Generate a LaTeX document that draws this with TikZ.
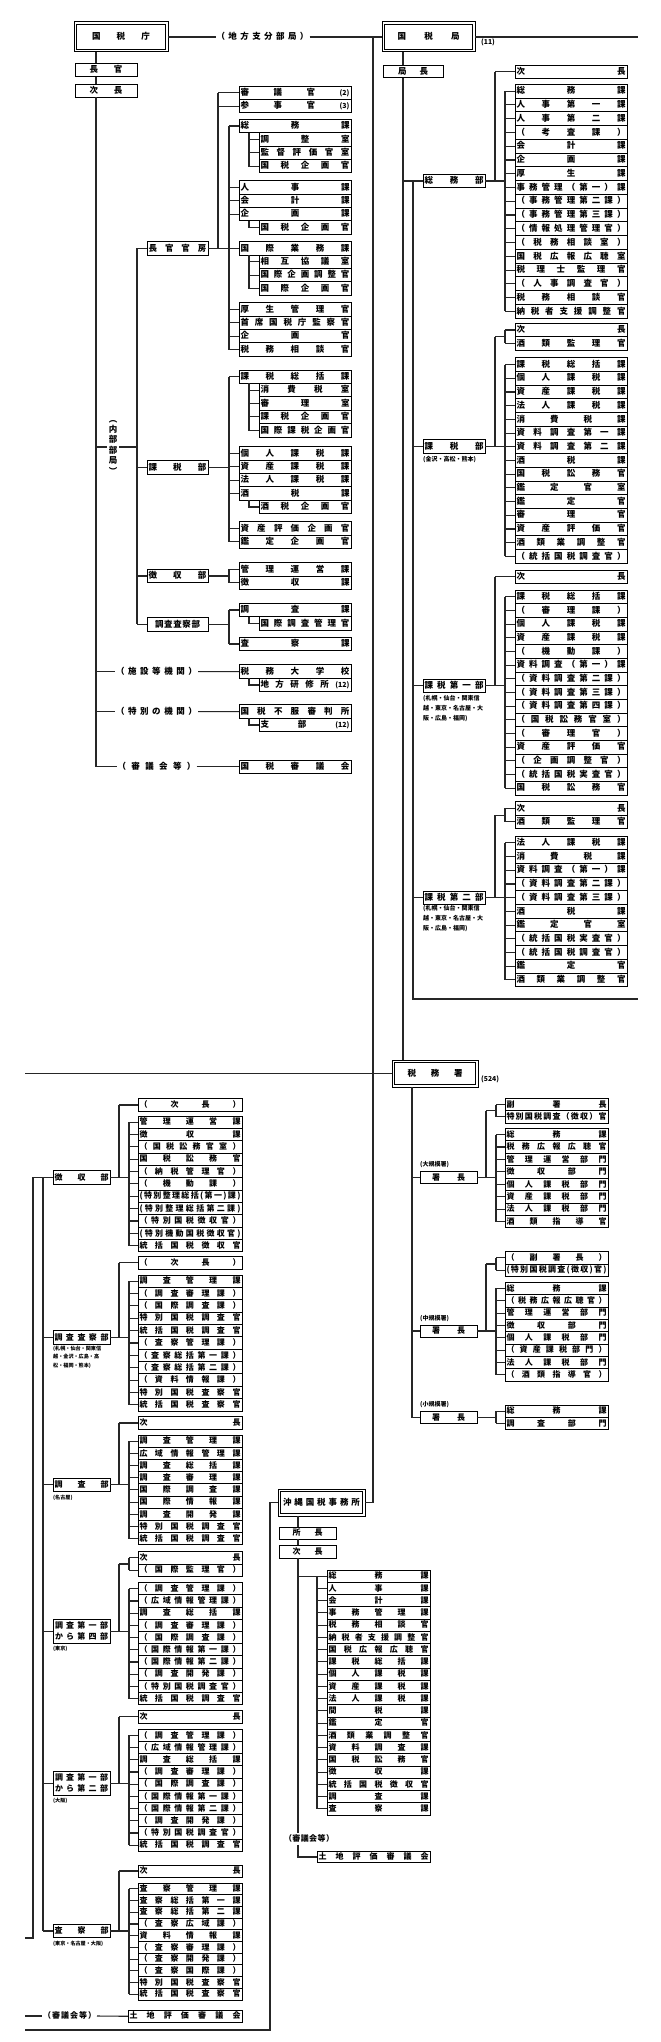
\documentclass[tikz,border=0pt]{standalone}
\usepackage{fontspec}
\setmainfont{Noto Sans CJK JP}
\usetikzlibrary{calc}
\def\sprEnd{\sprEnd}
\newcommand\spr[2]{\hbox to #1{\expandafter\sprA#2\sprEnd}}
\def\sprA#1{\ifx\sprEnd#1\else{#1}\expandafter\sprB\fi}
\def\sprB#1{\ifx\sprEnd#1\else\hfill{#1}\expandafter\sprB\fi}
\newcommand\pn[1]{{\fontsize{7}{7}\selectfont(#1)}}
\newcommand\fa{\fontsize{8.5}{9}\selectfont\bfseries}
\newcommand\fb{\fontsize{8}{9}\selectfont\bfseries}
\newcommand\fna{\fontsize{6}{10}\selectfont\bfseries}
\newcommand\fnb{\fontsize{5.1}{8.5}\selectfont\bfseries}
\newcommand\fsn{\fontsize{6.8}{8}\selectfont\bfseries}
\newcommand\Grp[7][]{%
  \foreach \tx [count=\i] in {#7}{%
    \node[rb,#1,minimum width=#5,minimum height=#6] (#2-\i) at (#3,{#4+(\i-1)*#6}) {\spr{\dimexpr#5pt-3pt\relax}{\tx}};}}
\newcommand\Bx[8][]{\node[rb,#1,minimum width=#5,minimum height=#6] (#2) at (#3,#4) {\spr{#7pt}{#8}};}
\newcommand\BrL[2]{\foreach \n in {#2}{\draw[ln] (#1 |- \n.west) -- (\n.west);}}
\newcommand\SbL[3]{\foreach \n in {#3}{\draw[ln] (#1 |- #2.south) |- (\n.west);}}
\newcommand\BusL[3]{\draw[ln] (#1 |- #2-1.west) -- (#1 |- #2-#3.west);
  \foreach \i in {1,...,#3}{\draw[ln] (#1 |- #2-\i.west) -- (#2-\i.west);}}
\newcommand\Dbl[1]{\draw[line width=1.3pt] ($(#1.north west)+(2.5,2.5)$) rectangle ($(#1.south east)+(-2.5,-2.5)$);}
\begin{document}
\begin{tikzpicture}[x=1pt,y=-1pt,
  ln/.style={draw=black!85, line width=1.1pt},
  rb/.style={draw=black, line width=0.9pt, anchor=north west, inner xsep=1.5pt, inner ysep=0pt, outer sep=0pt, text height=6.4pt, text depth=1pt, font=\fa},
  sm/.style={font=\fb},
  big/.style={draw=black, line width=1pt, anchor=north west, inner sep=0pt, outer sep=0pt, text height=6.4pt, text depth=1pt, font=\fa},
  lab/.style={inner xsep=1pt, inner ysep=2pt, outer sep=0pt, text height=6.4pt, text depth=1pt, font=\fa},
  note/.style={anchor=north west, inner sep=0pt, align=left}]
\fill[white] (0,0) rectangle (661,2042);
\useasboundingbox (0,0) rectangle (661,2042);
\foreach \v in {25,33,43,96,119,129,137,218,229,249,270,298,317,373,403,412,413,486,495,496,505}{\coordinate (X\v) at (\v,0);}
% ================= 国税庁 =================
\node[big,minimum width=94,minimum height=30] (nta) at (74,22) {\spr{58pt}{国税庁}};
\Dbl{nta}
\Bx{chokan}{75}{63.3}{62}{13.4}{33}{長官}
\Bx{jicho}{75}{84}{62}{13.4}{33}{次長}
\node[lab] (tchiho) at (262.5,37) {\spr{92pt}{（地方支分部局）}};
\node[font={\fontsize{8.5}{10.4}\selectfont\bfseries}, align=center, inner sep=1.5pt] (naibu) at (113,447) {︵\\内\\部\\部\\局\\︶};
\Bx{choukanbo}{147}{241.7}{61}{13.4}{58}{長官官房}
\Bx{kazeibu}{147}{460.7}{61}{13.4}{58}{課税部}
\Bx{choshubu}{147}{569.3}{61}{13.4}{58}{徴収部}
\Bx{chosasatsubu}{147}{617.7}{61}{13.4}{45}{調査査察部}
\node[lab] (tshisetsu) at (156.5,671.6) {\spr{81pt}{（施設等機関）}};
\node[lab] (ttoku) at (156.5,711.6) {\spr{81pt}{（特別の機関）}};
\node[lab] (tshin) at (156.5,766.7) {\spr{78pt}{（審議会等）}};
\Grp{kA1}{239}{86}{112}{13.4}{審議官{\pn{2}},参事官{\pn{3}}}
\Grp{kA2}{239}{119.3}{112}{13.4}{総務課}
\Grp{kB2}{259}{132.7}{92}{13.4}{調整室,監督評価官室,国税企画官}
\Grp{kA3}{239}{180.7}{112}{13.4}{人事課,会計課,企画課}
\Grp{kB3}{259}{220.9}{92}{13.4}{国税企画官}
\Grp{kA4}{239}{241.7}{112}{13.4}{国際業務課}
\Grp{kB4}{259}{255.1}{92}{13.4}{相互協議室,国際企画調整官,国際企画官}
\Grp{kA5}{239}{302.7}{112}{13.4}{厚生管理官,首席国税庁監察官,企画官,税務相談官}
\Grp{kA6}{239}{370}{112}{13.4}{課税総括課}
\Grp{kB6}{259}{383.4}{92}{13.4}{消費税室,審理室,課税企画官,国際課税企画官}
\Grp{kA7}{239}{446.7}{112}{13.4}{個人課税課,資産課税課,法人課税課,酒税課}
\Grp{kB7}{259}{500.3}{92}{13.4}{酒税企画官}
\Grp{kA8}{239}{521.7}{112}{13.4}{資産評価企画官,鑑定企画官}
\Grp{kA9}{239}{562.7}{112}{13.4}{管理運営課,徴収課}
\Grp{kA10}{239}{603.3}{112}{13.4}{調査課}
\Grp{kB10}{259}{616.7}{92}{13.4}{国際調査管理官}
\Grp{kA11}{239}{637.3}{112}{13.4}{査察課}
\Grp{kA12}{239}{664.9}{112}{13.4}{税務大学校}
\Grp{kB12}{259}{678.3}{92}{13.4}{地方研修所{\pn{12}}}
\Grp{kA13}{239}{704.9}{112}{13.4}{国税不服審判所}
\Grp{kB13}{259}{718.3}{92}{13.4}{支部{\pn{12}}}
\Grp{kA14}{239}{760}{112}{13.4}{国税審議会}
% ================= 国税局 =================
\node[big,minimum width=93,minimum height=30] (kyoku) at (382,22) {\spr{62pt}{国税局}};
\Dbl{kyoku}
\node[anchor=west,inner sep=0pt,font=\fsn] (n11) at (481,42) {(11)};
\Bx{kyokucho}{383}{65}{60}{12.7}{30}{局長}
\Bx{somubu}{423}{174.3}{62}{13.4}{59}{総務部}
\Bx{qkzb}{423}{439.7}{62}{13.4}{59}{課税部}
\Bx{qk1}{423}{679}{62}{13.4}{59}{課税第一部}
\Bx{qk2}{423}{891}{62}{13.4}{59}{課税第二部}
\node[note,font=\fna] (nq1) at (423,456) {(金沢・高松・熊本)};
\node[note,font=\fna] (nq2) at (423,695) {(札幌・仙台・関東信\\越・東京・名古屋・大\\阪・広島・福岡)};
\node[note,font=\fna] (nq3) at (423,905) {(札幌・仙台・関東信\\越・東京・名古屋・大\\阪・広島・福岡)};
\Grp{qS0}{515}{65}{112}{13.4}{次長}
\Grp{qS}{515}{84.3}{112}{13.76}{総務課,人事第一課,人事第二課,（考査課）,会計課,企画課,厚生課,事務管理（第一）課,（事務管理第二課）,（事務管理第三課）,（情報処理管理官）,（税務相談室）,国税広報広聴室,税理士監理官,（人事調査官）,税務相談官,納税者支援調整官}
\Grp{qK0}{515}{323.3}{112}{13.4}{次長,酒類監理官}
\Grp{qK}{515}{357.7}{112}{13.7}{課税総括課,個人課税課,資産課税課,法人課税課,消費税課,資料調査第一課,資料調査第二課,酒税課,国税訟務官,鑑定官室,鑑定官,審理官,資産評価官,酒類業調整官,（統括国税調査官）}
\Grp{qA0}{515}{570}{112}{13.4}{次長}
\Grp{qA}{515}{590}{112}{13.67}{課税総括課,（審理課）,個人課税課,資産課税課,（機動課）,資料調査（第一）課,（資料調査第二課）,（資料調査第三課）,（資料調査第四課）,（国税訟務官室）,（審理官）,資産評価官,（企画調整官）,（統括国税実査官）,国税訟務官}
\Grp{qB0}{515}{801.7}{112}{13.4}{次長,酒類監理官}
\Grp{qB}{515}{836}{112}{13.7}{法人課税課,消費税課,資料調査（第一）課,（資料調査第二課）,（資料調査第三課）,酒税課,鑑定官室,（統括国税実査官）,（統括国税調査官）,鑑定官,酒類業調整官}
% ================= 国税局 (続き) =================
\Bx[sm]{bchoshu}{53}{1170.8}{57}{13.4}{54}{徴収部}
\Bx[sm]{bcs}{53}{1330.7}{57}{13.4}{54}{調査査察部}
\Bx[sm]{bch}{53}{1478}{57}{13.4}{54}{調査部}
\node[rb,minimum width=57,minimum height=24.4] (bt4) at (53,1619) {};
\node[lab,font=\fb,inner sep=0pt] (bt4a) at ($(bt4.center)+(0,-5.6)$) {\spr{53pt}{調査第一部}};
\node[lab,font=\fb,inner sep=0pt] (bt4b) at ($(bt4.center)+(0,5.6)$) {\spr{53pt}{から第四部}};
\node[rb,minimum width=57,minimum height=24.4] (bt2) at (53,1771.3) {};
\node[lab,font=\fb,inner sep=0pt] (bt2a) at ($(bt2.center)+(0,-5.6)$) {\spr{53pt}{調査第一部}};
\node[lab,font=\fb,inner sep=0pt] (bt2b) at ($(bt2.center)+(0,5.6)$) {\spr{53pt}{から第二部}};
\Bx[sm]{bsatsu}{53}{1924.5}{57}{13}{54}{査察部}
\node[note,font=\fnb] (nb1) at (53,1345.5) {(札幌・仙台・関東信\\越・金沢・広島・高\\松・福岡・熊本)};
\node[note,font=\fnb] (nb2) at (53,1494.5) {(名古屋)};
\node[note,font=\fnb] (nb3) at (53,1645.5) {(東京)};
\node[note,font=\fnb] (nb4) at (53,1797.5) {(大阪)};
\node[note,font=\fnb] (nb5) at (53,1941) {(東京・名古屋・大阪)};
\Grp[sm]{bC0}{138}{1098.3}{104}{13.3}{（次長）}
\Grp[sm]{bC}{138}{1116}{104}{12.35}{管理運営課,徴収課,（国税訟務官室）,国税訟務官,（納税管理官）,（機動課）,(特別整理総括(第一)課),(特別整理総括第二課),（特別国税徴収官）,(特別機動国税徴収官),統括国税徴収官}
\Grp[sm]{bD0}{138}{1256}{104}{13}{（次長）}
\Grp[sm]{bD}{138}{1275}{104}{12.36}{調査管理課,（調査審理課）,（国際調査課）,特別国税調査官,統括国税調査官,（査察管理課）,（査察総括第一課）,（査察総括第二課）,（資料情報課）,特別国税査察官,統括国税査察官}
\Grp[sm]{bE0}{138}{1416.7}{104}{12.5}{次長}
\Grp[sm]{bE}{138}{1435}{104}{12.2}{調査管理課,広域情報管理課,調査総括課,調査審理課,国際調査課,国際情報課,調査開発課,特別国税調査官,統括国税調査官}
\Grp[sm]{bF0}{138}{1551.7}{104}{12.3}{次長,（国際監理官）}
\Grp[sm]{bF}{138}{1582.7}{104}{12.2}{（調査管理課）,（広域情報管理課）,調査総括課,（調査審理課）,（国際調査課）,（国際情報第一課）,（国際情報第二課）,（調査開発課）,（特別国税調査官）,統括国税調査官}
\Grp[sm]{bG0}{138}{1710.7}{104}{12.3}{次長}
\Grp[sm]{bG}{138}{1729.3}{104}{12.2}{（調査管理課）,（広域情報管理課）,調査総括課,（調査審理課）,（国際調査課）,（国際情報第一課）,（国際情報第二課）,（調査開発課）,（特別国税調査官）,統括国税調査官}
\Grp[sm]{bH0}{138}{1865}{104}{12}{次長}
\Grp[sm]{bH}{138}{1883}{104}{11.7}{査察管理課,査察総括第一課,査察総括第二課,（査察広域課）,資料情報課,（査察審理課）,（査察開発課）,（査察国際課）,特別国税査察官,統括国税査察官}
\node[lab,font=\fb] (tbshin) at (69.5,2016) {\spr{53pt}{（審議会等）}};
\Grp[sm]{bI}{128}{2010.5}{114}{11.5}{土地評価審議会}
% ================= 税務署 =================
\node[big,minimum width=86,minimum height=27] (zeimusho) at (392,1060) {\spr{55pt}{税務署}};
\Dbl{zeimusho}
\node[anchor=west,inner sep=0pt,font=\fsn] (n524) at (481,1079) {(524)};
\Bx[sm]{sho1}{420}{1171.7}{57}{11.7}{33}{署長}
\Bx[sm]{sho2}{420}{1325}{57}{12}{33}{署長}
\Bx[sm]{sho3}{420}{1411.7}{57}{11.7}{33}{署長}
\node[note,font=\fna] (nz1) at (420,1161) {(大規模署)};
\node[note,font=\fna] (nz2) at (420,1315) {(中規模署)};
\node[note,font=\fna] (nz3) at (420,1401) {(小規模署)};
\Grp[sm]{zL0}{505}{1098.3}{103}{12.4}{副署長,特別国税調査（徴収）官}
\Grp[sm]{zL}{505}{1128.3}{103}{12.45}{総務課,税務広報広聴官,管理運営部門,徴収部門,個人課税部門,資産課税部門,法人課税部門,酒類指導官}
\Grp[sm]{zM0}{505}{1251.7}{103}{12.3}{（副署長）,(特別国税調査(徴収)官)}
\Grp[sm]{zM}{505}{1282.3}{103}{12.35}{総務課,（税務広報広聴官）,管理運営部門,徴収部門,個人課税部門,（資産課税部門）,法人課税部門,（酒類指導官）}
\Grp[sm]{zS}{505}{1405}{103}{12.2}{総務課,調査部門}
% ================= 沖縄国税事務所 =================
\node[big,minimum width=87,minimum height=27] (okinawa) at (278,1489) {\spr{77pt}{沖縄国税事務所}};
\Dbl{okinawa}
\Bx[sm]{oshocho}{279}{1527}{57}{12.3}{30}{所長}
\Bx[sm]{ojicho}{279}{1545.3}{57}{12.7}{30}{次長}
\Grp[sm]{oG}{327}{1570}{103}{12.25}{総務課,人事課,会計課,事務管理課,税務相談官,納税者支援調整官,国税広報広聴官,課税総括課,個人課税課,資産課税課,法人課税課,間税課,鑑定官,酒類業調整官,資料調査課,国税訟務官,徴収課,統括国税徴収官,調査課,査察課}
\node[lab,font=\fb] (toshin) at (309,1839) {\spr{50pt}{（審議会等）}};
\Grp[sm]{oI}{317}{1851.5}{113}{11}{土地評価審議会}
% ================= connectors: 国税庁 =================
\draw[ln] (nta.east) -- (tchiho.west);
\draw[ln] (tchiho.east) -- (kyoku.west);
\coordinate (wrapR1) at (638,37);
\draw[ln] (kyoku.east) -- (wrapR1);
\draw[ln] (X373 |- tchiho.east) -- (X373 |- okinawa.east) -- (okinawa.east);
\draw[ln] (X96 |- nta.south) -- (X96 |- chokan.north);
\draw[ln] (X96 |- chokan.south) -- (X96 |- jicho.north);
\draw[ln] (X96 |- jicho.south) -- (X96 |- tshin.west) -- (tshin.west);
\draw[ln] (X96 |- naibu.center) -- (naibu.west);
\draw[ln] (naibu.east) -- (X137 |- naibu.center);
\draw[ln] (X137 |- choukanbo.west) -- (X137 |- chosasatsubu.west);
\BrL{X137}{choukanbo,kazeibu,choshubu,chosasatsubu}
\draw[ln] (choukanbo.east) -- (X229 |- choukanbo.east);
\draw[ln] (X218 |- kA1-1.west) -- (X218 |- choukanbo.east);
\BrL{X218}{kA1-1,kA1-2}
\draw[ln] (X229 |- kA2-1.west) -- (X229 |- kA5-4.west);
\BrL{X229}{kA2-1,kA3-1,kA3-2,kA3-3,kA4-1,kA5-1,kA5-2,kA5-3,kA5-4}
\SbL{X249}{kA2-1}{kB2-1,kB2-2,kB2-3}
\SbL{X249}{kA3-3}{kB3-1}
\SbL{X249}{kA4-1}{kB4-1,kB4-2,kB4-3}
\draw[ln] (kazeibu.east) -- (X229 |- kazeibu.east);
\draw[ln] (X229 |- kA6-1.west) -- (X229 |- kA8-2.west);
\BrL{X229}{kA6-1,kA7-1,kA7-2,kA7-3,kA7-4,kA8-1,kA8-2}
\SbL{X249}{kA6-1}{kB6-1,kB6-2,kB6-3,kB6-4}
\SbL{X249}{kA7-4}{kB7-1}
\draw[ln] (choshubu.east) -- (X229 |- choshubu.east);
\draw[ln] (X229 |- kA9-1.west) -- (X229 |- kA9-2.west);
\BrL{X229}{kA9-1,kA9-2}
\draw[ln] (chosasatsubu.east) -- (X229 |- chosasatsubu.east);
\draw[ln] (X229 |- kA10-1.west) -- (X229 |- kA11-1.west);
\BrL{X229}{kA10-1,kA11-1}
\SbL{X249}{kA10-1}{kB10-1}
\draw[ln] (X96 |- tshisetsu.west) -- (tshisetsu.west);
\draw[ln] (tshisetsu.east) -- (kA12-1.west);
\SbL{X249}{kA12-1}{kB12-1}
\draw[ln] (X96 |- ttoku.west) -- (ttoku.west);
\draw[ln] (ttoku.east) -- (kA13-1.west);
\SbL{X249}{kA13-1}{kB13-1}
\draw[ln] (tshin.east) -- (kA14-1.west);
% ================= connectors: 国税局 =================
\draw[ln] (X403 |- kyoku.south) -- (X403 |- kyokucho.north);
\draw[ln] (X403 |- kyokucho.south) -- (X403 |- zeimusho.north);
\draw[ln] (X403 |- somubu.west) -- (somubu.west);
\coordinate (wrapR2) at (638,999);
\draw[ln] (X413 |- somubu.west) |- (wrapR2);
\BrL{X413}{qkzb,qk1,qk2}
\draw[ln] (somubu.east) -- (X505 |- somubu.east);
\draw[ln] (X495 |- qS0-1.west) -- (X495 |- somubu.east);
\BrL{X495}{qS0-1}
\BusL{X505}{qS}{17}
\draw[ln] (qkzb.east) -- (X505 |- qkzb.east);
\draw[ln] (X495 |- qK0-1.south) -- (X495 |- qkzb.east);
\draw[ln] (X495 |- qK0-1.south) -- (X505 |- qK0-1.south);
\BusL{X505}{qK0}{2}
\BusL{X505}{qK}{15}
\draw[ln] (qk1.east) -- (X505 |- qk1.east);
\draw[ln] (X495 |- qA0-1.west) -- (X495 |- qk1.east);
\BrL{X495}{qA0-1}
\BusL{X505}{qA}{15}
\draw[ln] (qk2.east) -- (X505 |- qk2.east);
\draw[ln] (X495 |- qB0-1.south) -- (X495 |- qk2.east);
\draw[ln] (X495 |- qB0-1.south) -- (X505 |- qB0-1.south);
\BusL{X505}{qB0}{2}
\BusL{X505}{qB}{11}
% ================= connectors: bottom left =================
\coordinate (wrapL1) at (25,1073.5);
\draw[ln] (wrapL1) -- (zeimusho.west);
\coordinate (wrapL2) at (25,1938);
\draw[ln] (wrapL2) -| (X33 |- bchoshu.west) -- (bchoshu.west);
\draw[ln] (X43 |- bchoshu.west) -- (X43 |- bsatsu.west);
\BrL{X43}{bcs,bch,bt4,bt2,bsatsu}
\draw[ln] (bchoshu.east) -- (X129 |- bchoshu.east);
\draw[ln] (X119 |- bC0-1.west) -- (X119 |- bchoshu.east);
\BrL{X119}{bC0-1}
\BusL{X129}{bC}{11}
\draw[ln] (bcs.east) -- (X129 |- bcs.east);
\draw[ln] (X119 |- bD0-1.west) -- (X119 |- bcs.east);
\BrL{X119}{bD0-1}
\BusL{X129}{bD}{11}
\draw[ln] (bch.east) -- (X129 |- bch.east);
\draw[ln] (X119 |- bE0-1.west) -- (X119 |- bch.east);
\BrL{X119}{bE0-1}
\BusL{X129}{bE}{9}
\draw[ln] (bt4.east) -- (X129 |- bt4.east);
\draw[ln] (X119 |- bF0-1.south) -- (X119 |- bt4.east);
\draw[ln] (X119 |- bF0-1.south) -- (X129 |- bF0-1.south);
\BusL{X129}{bF0}{2}
\BusL{X129}{bF}{10}
\draw[ln] (bt2.east) -- (X129 |- bt2.east);
\draw[ln] (X119 |- bG0-1.west) -- (X119 |- bt2.east);
\BrL{X119}{bG0-1}
\BusL{X129}{bG}{10}
\draw[ln] (bsatsu.east) -- (X129 |- bsatsu.east);
\draw[ln] (X119 |- bH0-1.west) -- (X119 |- bsatsu.east);
\BrL{X119}{bH0-1}
\BusL{X129}{bH}{10}
\coordinate (wrapL4) at (25,2016);
\draw[ln] (wrapL4) -- (tbshin.west);
\draw[ln] (tbshin.east) -- (bI-1.west);
\coordinate (wrapL3) at (25,2030);
\draw[ln] (wrapL3) -| (X270 |- okinawa.west) -- (okinawa.west);
% ================= connectors: 税務署 =================
\draw[ln] (X412 |- zeimusho.south) -- (X412 |- sho3.west);
\BrL{X412}{sho1,sho2,sho3}
\draw[ln] (sho1.east) -- (X496 |- sho1.east);
\draw[ln] (X486 |- zL0-1.south) -- (X486 |- sho1.east);
\draw[ln] (X486 |- zL0-1.south) -- (X496 |- zL0-1.south);
\BusL{X496}{zL0}{2}
\BusL{X496}{zL}{8}
\draw[ln] (sho2.east) -- (X496 |- sho2.east);
\draw[ln] (X486 |- zM0-1.south) -- (X486 |- sho2.east);
\draw[ln] (X486 |- zM0-1.south) -- (X496 |- zM0-1.south);
\BusL{X496}{zM0}{2}
\BusL{X496}{zM}{8}
\draw[ln] (sho3.east) -- (X496 |- sho3.east);
\BusL{X496}{zS}{2}
% ================= connectors: 沖縄 =================
\draw[ln] (X298 |- okinawa.south) -- (X298 |- oshocho.north);
\draw[ln] (X298 |- oshocho.south) -- (X298 |- ojicho.north);
\draw[ln] (X298 |- ojicho.south) -- (X298 |- toshin.north);
\draw[ln] (X298 |- toshin.south) |- (oI-1.west);
\draw[ln] (X298 |- oG-1.west) -- (X317 |- oG-1.west);
\BusL{X317}{oG}{20}
\end{tikzpicture}
\end{document}
